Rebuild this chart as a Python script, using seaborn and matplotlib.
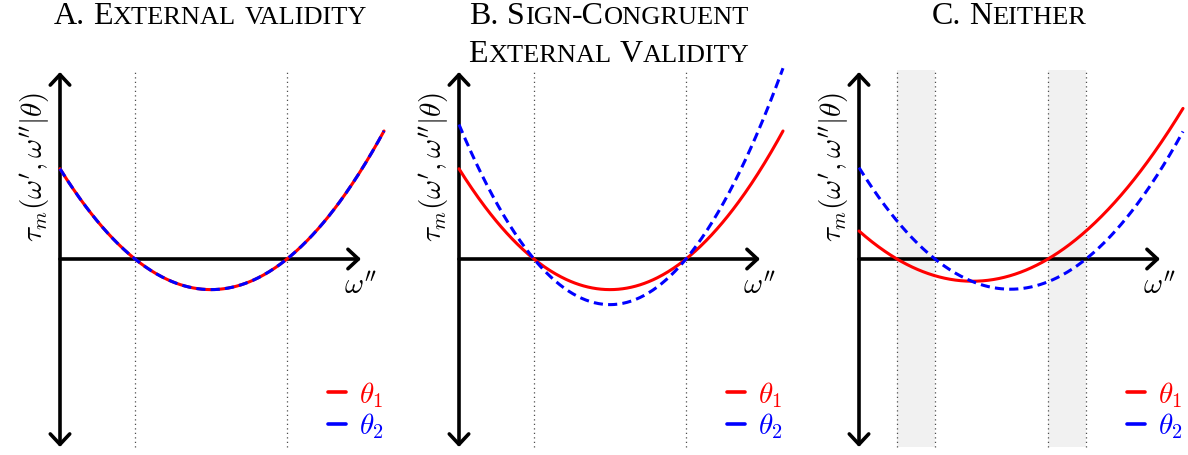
import itertools

import numpy as np
import matplotlib.pyplot as plt
from matplotlib.lines import Line2D
import seaborn as sns

# Panel content
PANEL_TITLES = [
    ['A. External validity'],
    ['B. Sign-Congruent', 'External Validity'],
    ['C. Neither'],
]
Y_LABEL = r"$\tau_m(\omega^\prime, \omega^{\prime\prime}|\theta)$"
X_LABEL = r"$\omega^{\prime\prime}$"
LEGEND_LABELS = [r'$\theta_1$', r'$\theta_2$']

# Sign-change points (dotted guides) and the grey bands of panel C
GUIDE_X = [0.75, 2.27]
BAND_X = [[0.38, 0.76], [1.89, 2.27]]
SHOW_BANDS = [False, False, True]

# Each curve is a parabola tau = scale * (w - r1) * (w - r2)
THETA1_ROOTS = [[0.75, 2.27], [0.75, 2.27], [0.38, 1.89]]
THETA1_SCALE = [0.53, 0.53, 0.39]
THETA2_ROOTS = [[0.75, 2.27], [0.75, 2.27], [0.76, 2.27]]
THETA2_SCALE = [0.53, 0.79, 0.53]
W_MAX = 3.24

RED = '#ff0000'
BLUE = '#0000ff'

sns.set_theme(style='white')
plt.rcParams['font.family'] = ['Liberation Serif', 'DejaVu Serif']
plt.rcParams['mathtext.fontset'] = 'cm'
plt.rcParams['text.color'] = 'black'

DPI = 100
FIG_W, FIG_H = 1188, 455
AXIS_PX = [60, 459, 859]     # pixel column of each vertical axis
BIG, SMALL = 23.0, 19.0      # small caps sizes
MATH_SIZE = 21


def smallcaps_line(ax, x, y, text, renderer):
    # Fakes LaTeX small caps: capitals at full size, lower case as smaller capitals.
    pieces = []
    for i, word in enumerate(text.split(' ')):
        if i:
            pieces.append(None)
        for is_low, grp in itertools.groupby(word, key=str.islower):
            pieces.append((''.join(grp).upper(), SMALL if is_low else BIG))
    space = 0.27 * BIG * DPI / 72
    items = []
    for p in pieces:
        if p is None:
            items.append((None, space))
            continue
        t = ax.annotate(p[0], xy=(x, y), xytext=(0, 0), textcoords='offset pixels',
                        fontsize=p[1], ha='left', va='baseline', annotation_clip=False)
        items.append((t, t.get_window_extent(renderer).width))
    total = sum(w for _, w in items)
    pos = -total / 2
    for t, w in items:
        if t is not None:
            t.xyann = (pos, 0)
        pos += w


fig = plt.figure(figsize=(FIG_W / DPI, FIG_H / DPI), dpi=DPI)
renderer = fig.canvas.get_renderer()

w = np.linspace(0, W_MAX, 300)
y_lo, y_hi = -1.96, 2.59

for i in range(3):
    left = AXIS_PX[i] - 60
    right = min(left + 400, FIG_W)
    ax = fig.add_axes([left / FIG_W, 0, (right - left) / FIG_W, 1])
    ax.set_xlim(-0.6, (right - left) / 100 - 0.6)
    ax.set_ylim(y_lo, y_hi)
    ax.axis('off')

    if SHOW_BANDS[i]:
        guides = [x for band in BAND_X for x in band]
        for x0, x1 in BAND_X:
            ax.fill_betweenx([-1.88, 1.89], x0, x1, color='#f1f1f1', lw=0, zorder=0)
    else:
        guides = GUIDE_X
    for xv in guides:
        ax.plot([xv, xv], [-1.88, 1.89], color='0.3', lw=0.9,
                linestyle=(0, (1, 2.6)), zorder=1)

    # axes with arrowheads
    ax.annotate('', xy=(0, 1.87), xytext=(0, -1.88),
                arrowprops=dict(arrowstyle='<->,head_length=0.75,head_width=0.7',
                                lw=2.6, color='black', shrinkA=0, shrinkB=0,
                                mutation_scale=10), zorder=2)
    ax.annotate('', xy=(3.01, 0), xytext=(0, 0),
                arrowprops=dict(arrowstyle='->,head_length=0.75,head_width=0.7',
                                lw=2.6, color='black', shrinkA=0, shrinkB=0,
                                mutation_scale=10), zorder=2)

    r1, r2 = THETA1_ROOTS[i]
    tau1 = THETA1_SCALE[i] * (w - r1) * (w - r2)
    r1, r2 = THETA2_ROOTS[i]
    tau2 = THETA2_SCALE[i] * (w - r1) * (w - r2)
    sns.lineplot(x=w, y=tau1, color=RED, lw=2.2, ax=ax, zorder=3)
    sns.lineplot(x=w, y=tau2, color=BLUE, lw=2.2, linestyle=(0, (3, 1.7)),
                 ax=ax, zorder=4)

    ax.text(-0.25, 0.92, Y_LABEL, rotation=90, ha='center', va='center',
            fontsize=MATH_SIZE)
    ax.text(3.0, -0.27, X_LABEL, ha='center', va='center', fontsize=MATH_SIZE)

    handles = [Line2D([], [], color=RED, lw=2.6), Line2D([], [], color=BLUE, lw=2.6)]
    ax.legend(handles, LEGEND_LABELS, loc='lower right', bbox_to_anchor=(3.24, -1.82),
              bbox_transform=ax.transData, frameon=False, fontsize=MATH_SIZE,
              handlelength=0.62, handletextpad=0.45, labelspacing=0.05,
              borderpad=0, borderaxespad=0, labelcolor='linecolor')

    for j, line in enumerate(PANEL_TITLES[i]):
        smallcaps_line(ax, 1.5, 2.35 - 0.38 * j, line, renderer)

fig.savefig('out.png', dpi=DPI)
